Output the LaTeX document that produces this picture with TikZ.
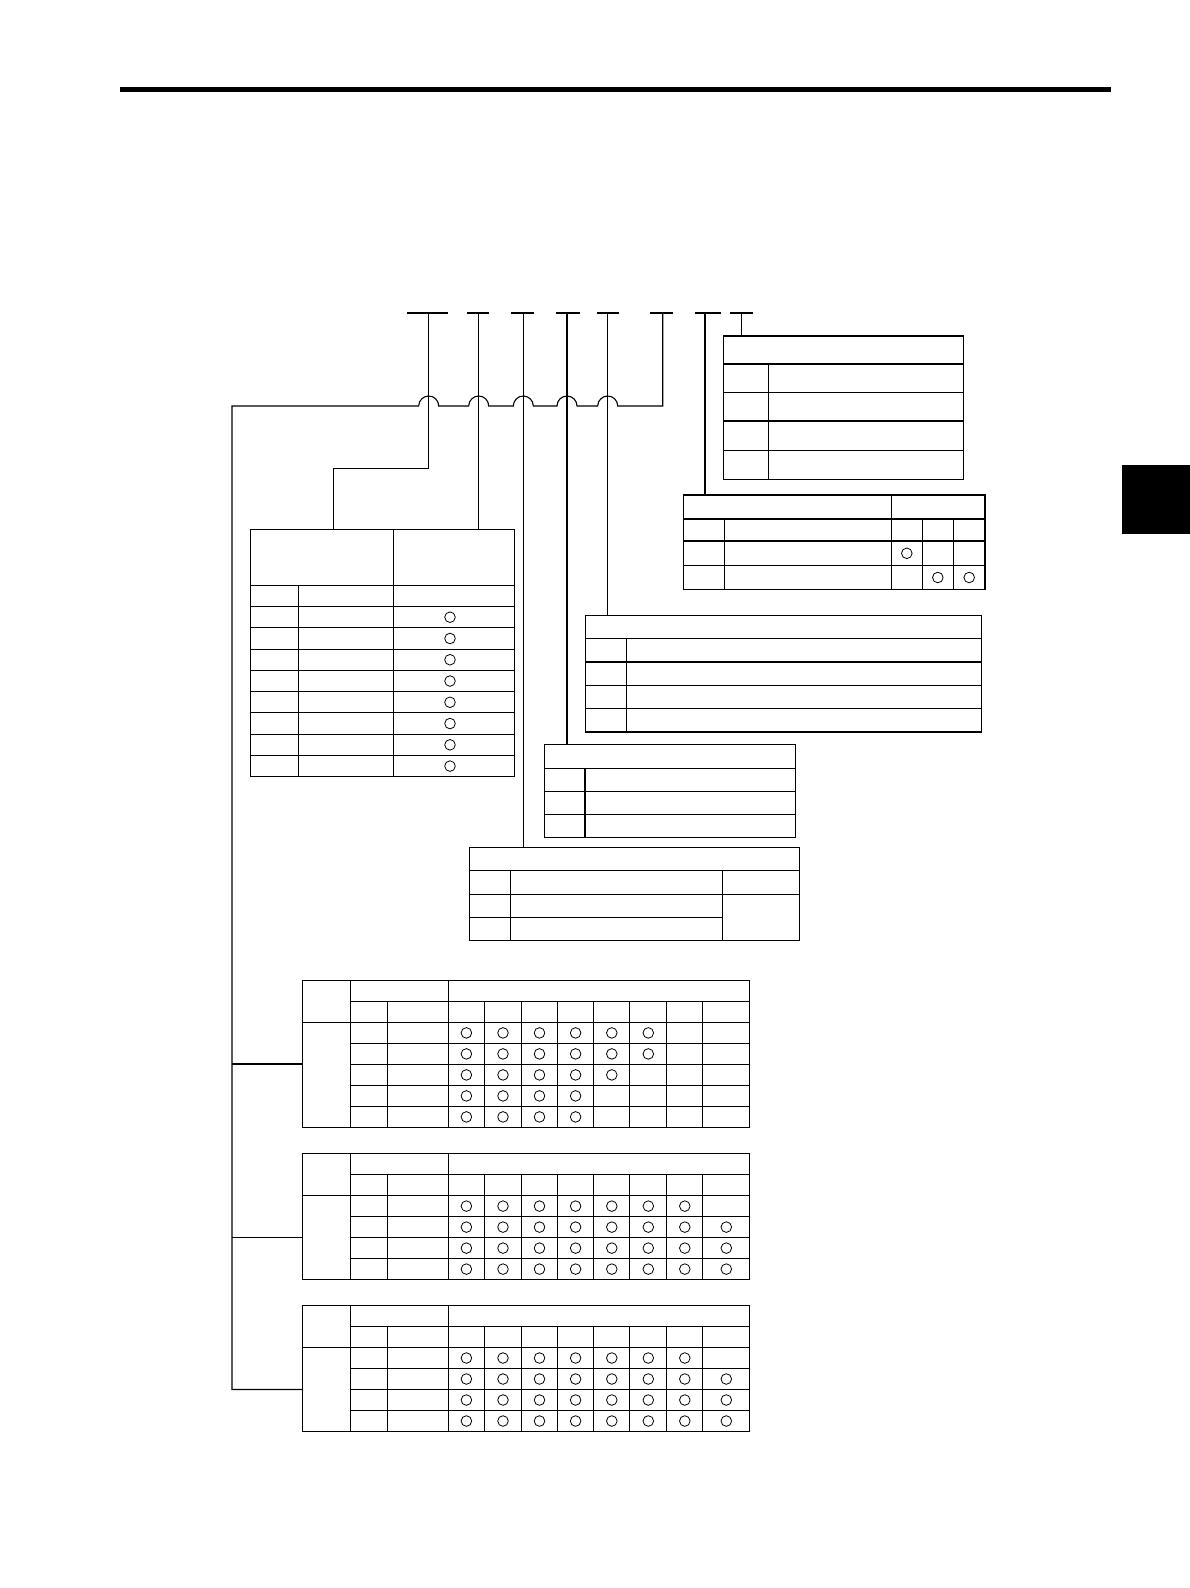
\documentclass[tikz,border=0pt]{standalone}
\usetikzlibrary{positioning}

% one of the three rating tables at the foot of the page
% #1 top edge, #2 number of rows, #3 marks per row
\newcommand{\ratingtable}[3]{%
  \pgfmathsetmacro\rtbot{#1+42+21*#2}
  \draw[table line] (302.3,#1) rectangle (749.7,\rtbot);
  \draw[table line] (350.2,#1) -- (350.2,\rtbot);
  \draw[table line] (448.3,#1) -- (448.3,\rtbot);
  \draw[table line] (350.2,#1+21) -- (749.7,#1+21);
  \draw[table line] (302.3,#1+42) -- (749.7,#1+42);
  \foreach \cx in {387.4,484.5,521.4,557.5,593.7,629.8,666.7,702.8}
    \draw[table line] (\cx,#1+21) -- (\cx,\rtbot);
  \foreach \n [count=\r] in {#3} {
    \ifnum\r<#2 \draw[table line] (350.2,#1+42+21*\r) -- (749.7,#1+42+21*\r);\fi
    \foreach \k in {1,...,\n} {
      \pgfmathsetmacro\cx{{466.4,503.0,539.5,575.6,611.8,648.3,684.8,726.3}[\k-1]}
      \draw[ok mark] (\cx,#1+42+21*\r-10.5) circle[radius=5.3pt];
    }
  }
}

\begin{document}
\begin{tikzpicture}[x=1pt,y=-1pt,line join=miter,
    table line/.style={line width=1.1pt},
    ok mark/.style={line width=0.8pt},
    lead line/.style={line width=1.1pt}]
  \useasboundingbox (0,0) rectangle (1190,1588);

  % page rule and thumb tab
  \fill (119.5,86.5) rectangle (1111,91.5);
  \fill (1122,465) rectangle (1190,534);

  % code positions
  \foreach \a/\b in {406.7/447.7, 466.7/489.3, 511/533.7, 555.7/580,
                     597/619.3, 650/672.7, 695/720.7, 730/752.7}
    \draw[lead line] (\a,313) -- (\b,313);

  \coordinate (c1) at (428.7,313);
  \coordinate (c2) at (478.7,313);
  \coordinate (c3) at (523.3,313);
  \coordinate (c4) at (567,313);
  \coordinate (c5) at (607.7,313);
  \coordinate (c6) at (662.7,313);
  \coordinate (c7) at (705,313);
  \coordinate (c8) at (741.3,313);

  % attachment points on the tables
  \coordinate (k1) at (428.7,468.3);
  \coordinate (t1) at (333.3,529.3);
  \coordinate (t2) at (478.7,529.3);
  \coordinate (te) at (523.3,847.3);
  \coordinate (td) at (567,744.3);
  \coordinate (tc) at (607.7,615.3);
  \coordinate (bus) at (662.7,406);
  \coordinate (tb) at (705,495);
  \coordinate (ta) at (741.3,336);
  \coordinate (bl) at (232,406);
  \coordinate (b1) at (232,1064);
  \coordinate (b2) at (232,1237.6);
  \coordinate (b3) at (232,1389.5);
  \coordinate (f1) at (302.3,1064);
  \coordinate (f2) at (302.3,1237.6);
  \coordinate (f3) at (302.3,1389.5);

  % leads
  \draw[lead line] (c1) -- (k1) -| (t1);
  \draw[lead line] (c2) -- (t2);
  \draw[lead line] (c3) -- (te);
  \draw[lead line] (c4) -- (td);
  \draw[lead line] (c5) -- (tc);
  \draw[lead line] (c7) -- (tb);
  \draw[lead line] (c8) -- (ta);

  % bus with jumps over the crossing leads
  \draw[lead line] (c6) -- (bus) -- (617.7,406)
    arc[start angle=0,end angle=180,radius=10pt] -- (577,406)
    arc[start angle=0,end angle=180,radius=10pt] -- (533.3,406)
    arc[start angle=0,end angle=180,radius=10pt] -- (488.7,406)
    arc[start angle=0,end angle=180,radius=10pt] -- (438.7,406)
    arc[start angle=0,end angle=180,radius=10pt] -- (bl) -- (b3) -- (f3);
  \draw[lead line] (b1) -- (f1);
  \draw[lead line] (b2) -- (f2);

  % table A
  \draw[table line] (723.3,336) rectangle (963.3,479.3);
  \foreach \y in {364,392.3,421,450.3}
    \draw[table line] (723.3,\y) -- (963.3,\y);
  \draw[table line] (768.3,364) -- (768.3,479.3);

  % table B
  \draw[table line] (683.3,495) rectangle (985,589.3);
  \foreach \y in {519,541,565.7}
    \draw[table line] (683.3,\y) -- (985,\y);
  \draw[table line] (891.3,495) -- (891.3,589.3);
  \foreach \x in {724.3,922.3,953.3}
    \draw[table line] (\x,519) -- (\x,589.3);
  \draw[ok mark] (906.8,553.3) circle[radius=5.3pt];
  \draw[ok mark] (937.8,577.5) circle[radius=5.3pt];
  \draw[ok mark] (969.2,577.5) circle[radius=5.3pt];

  % table 1
  \draw[table line] (250.3,529.3) rectangle (514.3,776.7);
  \draw[table line] (393.3,529.3) -- (393.3,776.7);
  \draw[table line] (298.3,585.3) -- (298.3,776.7);
  \foreach \i in {0,...,8}
    \draw[table line] (250.3,585.3+21.27*\i) -- (514.3,585.3+21.27*\i);
  \foreach \i in {1,...,8}
    \draw[ok mark] (450,585.3+21.27*\i+10.63) circle[radius=5.3pt];

  % table C
  \draw[table line] (585.7,615.3) rectangle (981.7,732);
  \foreach \y in {638.3,662,685.3,708.3}
    \draw[table line] (585.7,\y) -- (981.7,\y);
  \draw[table line] (626.7,638.3) -- (626.7,732);

  % table D
  \draw[table line] (544.3,744.3) rectangle (795.7,837.3);
  \foreach \y in {768.3,791.3,814.7}
    \draw[table line] (544.3,\y) -- (795.7,\y);
  \draw[table line] (585,768.3) -- (585,837.3);

  % table E
  \draw[table line] (469.3,847.3) rectangle (799.3,940.3);
  \foreach \y in {870.3,894.3}
    \draw[table line] (469.3,\y) -- (799.3,\y);
  \draw[table line] (469.3,917.3) -- (722.3,917.3);
  \draw[table line] (510.3,870.3) -- (510.3,940.3);
  \draw[table line] (722.3,870.3) -- (722.3,940.3);

  % rating tables
  \ratingtable{980.4}{5}{6,6,5,4,4}
  \ratingtable{1153.6}{4}{7,8,8,8}
  \ratingtable{1305.5}{4}{7,8,8,8}

\end{tikzpicture}
\end{document}
